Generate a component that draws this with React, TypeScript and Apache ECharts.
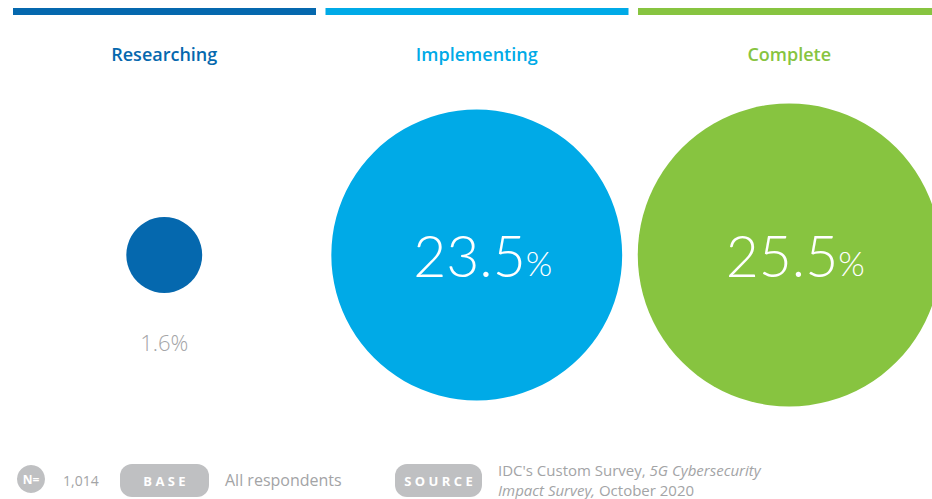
import React, { useEffect, useRef } from "react";
import * as echarts from "echarts";

const categories = ["Researching", "Implementing", "Complete"];
const values = [1.6, 23.5, 25.5];
const colors = ["#0568ae", "#00aae7", "#87c440"];
const sampleSize = "1,014";
const baseText = "All respondents";

export default function App() {
  const ref = useRef<HTMLDivElement>(null);
  useEffect(() => {
    if (!ref.current) return;
    const chart = echarts.init(ref.current, null, { renderer: "svg" });
    const gray = "#a3a4a6";
    const pill = "#bfc0c2";
    const colStart = 13;
    const colW = 303;
    const colGap = 9.5;
    const bars = categories.map((c, i) => ({
      type: "rect",
      shape: { x: colStart + i * (colW + colGap), y: 8, width: colW, height: 7 },
      style: { fill: colors[i] },
    }));
    const data = values.map((v, i) => {
      const small = v < 5;
      return {
        value: [categories[i], "share", v],
        itemStyle: { color: colors[i] },
        label: small
          ? {
              show: true,
              position: "bottom",
              distance: 38,
              formatter: (p: any) => `${p.value[2]}%`,
              color: "#a4a5a7",
              fontSize: 22,
              fontFamily: "Open Sans",
              fontWeight: 300,
            }
          : {
              show: true,
              position: "inside",
              offset: [6, 0],
              formatter: (p: any) => `{a|${p.value[2]}}{b|%}`,
              rich: {
                a: { fontSize: 57, fontFamily: "Lato", fontWeight: 300, color: "#fff" },
                b: { fontSize: 34, fontFamily: "Lato", fontWeight: 300, color: "#fff", padding: [14, 0, 0, 0] },
              },
            },
      };
    });
    chart.setOption({
      animation: false,
      grid: { left: 8, width: 937.5, top: 105, height: 300, outerBoundsMode: "none", containLabel: false },
      xAxis: {
        type: "category",
        position: "top",
        data: categories,
        axisLine: { show: false },
        axisTick: { show: false },
        axisLabel: {
          margin: 42,
          fontSize: 18,
          fontFamily: "Open Sans",
          fontWeight: 600,
          formatter: (v: string) => `{c${categories.indexOf(v)}|${v}}`,
          rich: {
            c0: { color: colors[0], fontSize: 18, fontFamily: "Open Sans", fontWeight: 600 },
            c1: { color: colors[1], fontSize: 18, fontFamily: "Open Sans", fontWeight: 600 },
            c2: { color: colors[2], fontSize: 18, fontFamily: "Open Sans", fontWeight: 600 },
          },
        },
      },
      yAxis: { type: "category", data: ["share"], show: false },
      series: [
        {
          type: "scatter",
          data,
          symbol: "circle",
          symbolSize: (d: any) => 60 * Math.sqrt(d[2]),
          itemStyle: { opacity: 1 },
        },
      ],
      graphic: [
        ...bars,
        { type: "circle", shape: { cx: 31, cy: 479, r: 14 }, style: { fill: pill } },
        {
          type: "text",
          x: 31,
          y: 479,
          style: { text: "N=", fill: "#fff", font: "bold 12px 'Open Sans'", align: "center", verticalAlign: "middle" },
        },
        {
          type: "text",
          x: 63,
          y: 480,
          style: { text: sampleSize, fill: gray, font: "14px 'Open Sans'", verticalAlign: "middle" },
        },
        { type: "rect", shape: { x: 120, y: 464, width: 89, height: 33, r: 12 }, style: { fill: pill } },
        {
          type: "text",
          x: 164.5,
          y: 481,
          style: { text: "B A S E", fill: "#fff", font: "bold 13px 'Open Sans'", align: "center", verticalAlign: "middle" },
        },
        {
          type: "text",
          x: 225,
          y: 480,
          style: { text: baseText, fill: gray, font: "16px 'Open Sans'", verticalAlign: "middle" },
        },
        { type: "rect", shape: { x: 395, y: 464, width: 87, height: 33, r: 12 }, style: { fill: pill } },
        {
          type: "text",
          x: 438.5,
          y: 481,
          style: { text: "S O U R C E", fill: "#fff", font: "bold 13px 'Open Sans'", align: "center", verticalAlign: "middle" },
        },
        {
          type: "text",
          x: 498,
          y: 470,
          style: {
            text: "{n|IDC's Custom Survey, }{i|5G Cybersecurity}",
            verticalAlign: "middle",
            rich: {
              n: { fill: gray, font: "15px 'Open Sans'", lineHeight: 17 } as any,
              i: { fill: gray, font: "italic 15px 'Open Sans'", lineHeight: 17 } as any,
            },
          },
        },
        {
          type: "text",
          x: 498,
          y: 490,
          style: {
            text: "{i|Impact Survey,}{n| October 2020}",
            verticalAlign: "middle",
            rich: {
              n: { fill: gray, font: "15px 'Open Sans'", lineHeight: 17 } as any,
              i: { fill: gray, font: "italic 15px 'Open Sans'", lineHeight: 17 } as any,
            },
          },
        },
      ],
    });
    return () => chart.dispose();
  }, []);
  return (
    <div
      ref={ref}
      style={{ position: "fixed", left: 0, top: 0, width: 932, height: 499, background: "#fff" }}
    />
  );
}
